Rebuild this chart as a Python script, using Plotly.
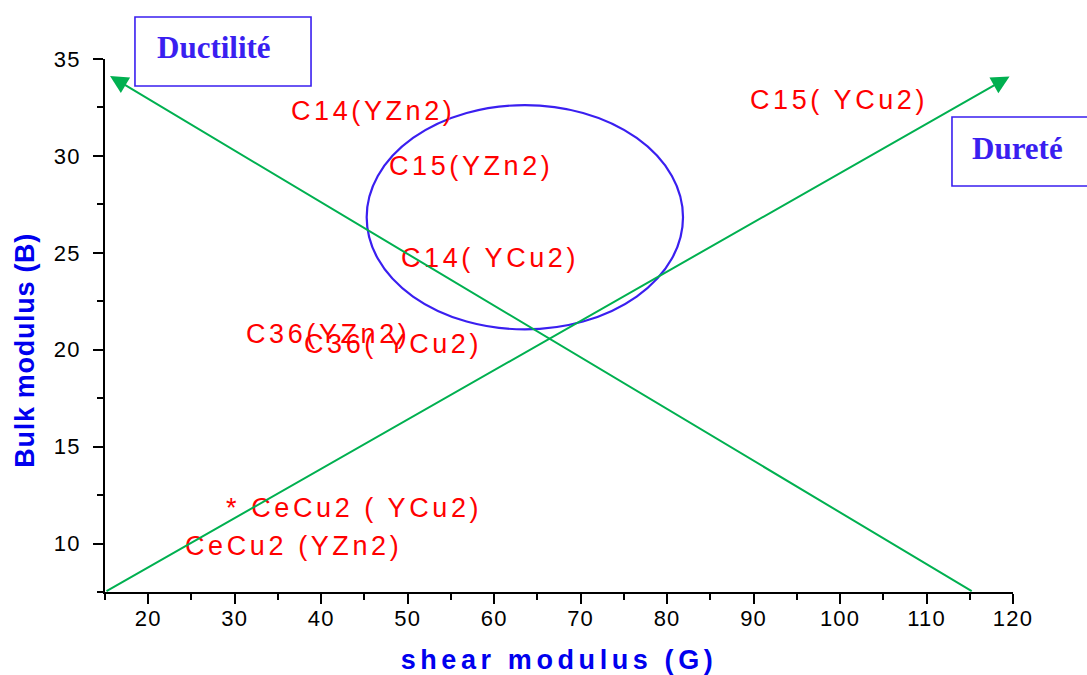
import plotly.graph_objects as go

# ---- data ----
x_ticks = [20, 30, 40, 50, 60, 70, 80, 90, 100, 110, 120]
y_ticks = [10, 15, 20, 25, 30, 35]
x_range = [15, 120]
y_range = [7.5, 35]

label_texts = ["C14(YZn2)", "C15( YCu2)", "C15(YZn2)", "C14( YCu2)",
               "C36(YZn2)", "C36( YCu2)", "* CeCu2 ( YCu2)", "CeCu2 (YZn2)"]
label_x = [36.3, 89.3, 47.6, 49.0, 31.1, 37.8, 28.8, 24.05]
label_y = [32.3, 32.88, 29.47, 24.72, 20.8, 20.28, 11.86, 9.85]

# arrows: tail (x, y) -> head (x, y)
arrow_tail_x = [115.4, 15.0]
arrow_tail_y = [7.5, 7.5]
arrow_head_x = [15.58, 119.6]
arrow_head_y = [34.12, 34.1]

# ellipse bounds (data units)
ellipse_x = [45.26, 81.84]
ellipse_y = [21.05, 32.62]

box_texts = ["Ductilité", "Dureté"]

RED = "#ff0000"
GREEN = "#00b050"
VIOLET = "#3a1ff0"
BLUE = "#0000ee"
SANS = "Liberation Sans, Arial, sans-serif"
SERIF = "Liberation Serif, Times New Roman, serif"

fig = go.Figure()
# invisible trace to establish axes
fig.add_trace(go.Scatter(x=x_range, y=y_range, mode="markers",
                         marker=dict(opacity=0), hoverinfo="skip", showlegend=False))

annotations = []
for t, x, y in zip(label_texts, label_x, label_y):
    annotations.append(dict(x=x, y=y, xref="x", yref="y", text=t, showarrow=False,
                            xanchor="left", yanchor="middle", align="left",
                            font=dict(family=SANS, size=27, color=RED)))

for tx, ty, hx, hy in zip(arrow_tail_x, arrow_tail_y, arrow_head_x, arrow_head_y):
    annotations.append(dict(x=hx, y=hy, xref="x", yref="y", ax=tx, ay=ty,
                            axref="x", ayref="y", text="", showarrow=True,
                            arrowhead=2, arrowsize=1.8, arrowwidth=2, arrowcolor=GREEN))

# boxed labels (paper coords, outside plot region)
annotations.append(dict(x=0.120, y=1.0225, xref="paper", yref="paper", text=box_texts[0],
                        showarrow=False, xanchor="center", yanchor="middle",
                        font=dict(family=SERIF, size=31, color=VIOLET, weight="bold")))
annotations.append(dict(x=1.0055, y=0.833, xref="paper", yref="paper", text=box_texts[1],
                        showarrow=False, xanchor="center", yanchor="middle",
                        font=dict(family=SERIF, size=31, color=VIOLET, weight="bold")))

# y axis title as annotation (positioned as in reference)
annotations.append(dict(x=-0.088, y=0.454, xref="paper", yref="paper",
                        text="<b>Bulk modulus (B)</b>", textangle=-90, showarrow=False,
                        xanchor="center", yanchor="middle",
                        font=dict(family=SANS, size=27, color=BLUE)))

shapes = [
    dict(type="circle", xref="x", yref="y", x0=ellipse_x[0], x1=ellipse_x[1],
         y0=ellipse_y[0], y1=ellipse_y[1], line=dict(color=VIOLET, width=2.2)),
    dict(type="rect", xref="paper", yref="paper", x0=0.033, x1=0.2269, y0=0.9493, y1=1.0788,
         line=dict(color=VIOLET, width=1.6)),
    dict(type="rect", xref="paper", yref="paper", x0=0.9328, x1=1.095, y0=0.7617, y1=0.8912,
         line=dict(color=VIOLET, width=1.6)),
]

axis_common = dict(showgrid=False, zeroline=False, showline=True, linecolor="black",
                   linewidth=2, ticks="outside", ticklen=10, tickwidth=2, tickcolor="black",
                   tickfont=dict(family=SANS, size=22, color="black"), mirror=False,
                   automargin=False)

fig.update_layout(
    width=1087, height=675,
    margin=dict(l=105, r=74, t=59, b=83),
    paper_bgcolor="white", plot_bgcolor="white",
    font=dict(family=SANS),
    showlegend=False,
    annotations=annotations,
    shapes=shapes,
    xaxis=dict(range=x_range, tickvals=x_ticks, ticklabelstandoff=-4,
               minor=dict(dtick=5, tick0=0, ticks="outside", ticklen=6, tickwidth=2, tickcolor="black"),
               title=dict(text="<b>shear modulus (G)</b>", standoff=23,
                          font=dict(family=SANS, size=27, color=BLUE)),
               **axis_common),
    yaxis=dict(range=y_range, tickvals=y_ticks, ticklabelstandoff=8,
               minor=dict(dtick=2.5, tick0=0, ticks="outside", ticklen=6, tickwidth=2, tickcolor="black"),
               **axis_common),
)

post = """
var gd = document.getElementById('{plot_id}');
gd.querySelectorAll('text.annotation-text').forEach(function(t){
  var f = t.style.fill || '';
  if (f.indexOf('255, 0, 0') >= 0) { t.style.letterSpacing = '3.6px'; }
  else if (f.indexOf('0, 0, 238') >= 0) { t.style.letterSpacing = '0.7px'; }
});
gd.querySelectorAll('.xtitle').forEach(function(t){ t.style.letterSpacing = '4.6px'; });
gd.querySelectorAll('.xtick text, .ytick text').forEach(function(t){ t.style.letterSpacing = '1.2px'; });
"""

fig.write_html("out.html", post_script=post)
